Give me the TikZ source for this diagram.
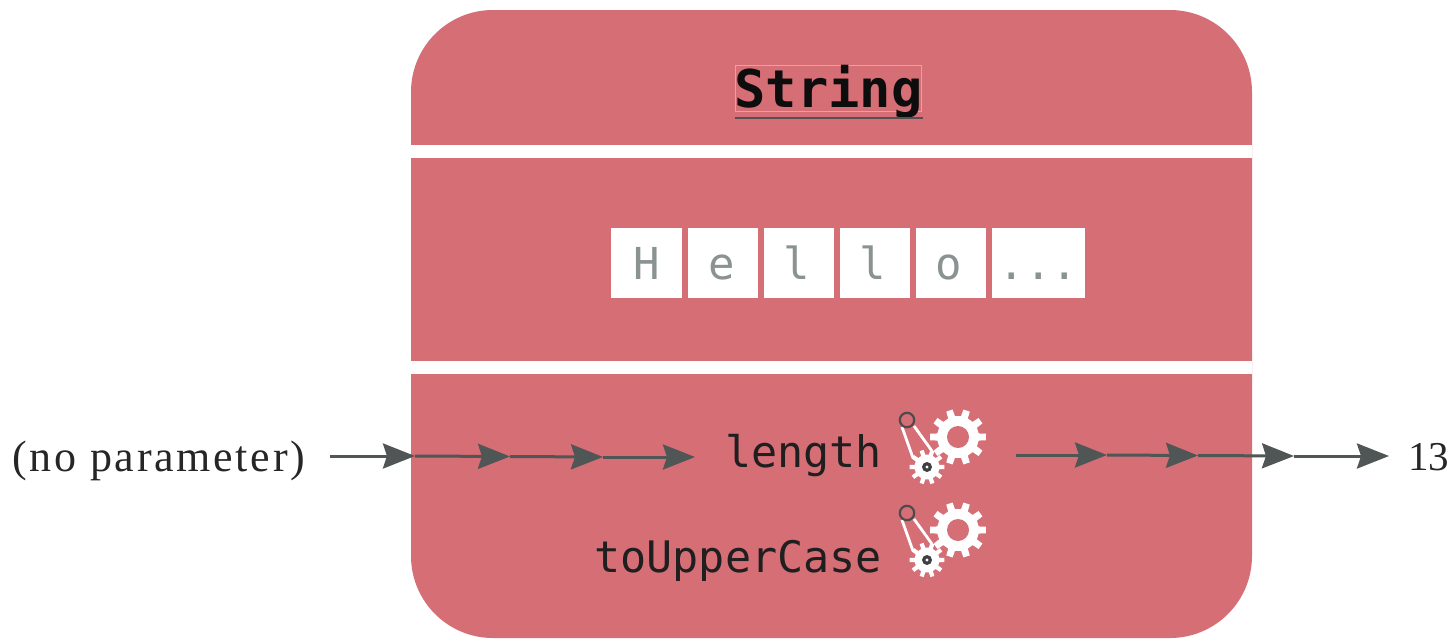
\documentclass[tikz,border=0pt]{standalone}
\usepackage{fontspec}
\setmainfont{Liberation Serif}
\setmonofont{DejaVu Sans Mono}
\usetikzlibrary{arrows.meta}
\definecolor{panelred}{HTML}{D66E76}
\definecolor{arrowgray}{HTML}{505555}
\definecolor{cellgray}{HTML}{8A9292}
\newcommand{\gearshape}[3]{% radius inner, radius outer, teeth
  \fill[white] ({-0.27*360/#3}:#1)
  \foreach \i in {1,...,#3}{
    -- ({(\i-1)*360/#3-0.27*360/#3}:#1)
    -- ({(\i-1)*360/#3-0.19*360/#3}:#2)
    -- ({(\i-1)*360/#3+0.19*360/#3}:#2)
    -- ({(\i-1)*360/#3+0.27*360/#3}:#1)
  } -- cycle;
}
\tikzset{
  x=1pt,y=-1pt,
  band/.style={fill=white},
  cell/.style={fill=white,draw=none,minimum height=70pt,inner sep=0pt,anchor=center,
    text height=33pt,text depth=0pt,
    text=cellgray,font=\ttfamily\fontsize{44}{44}\selectfont},
  cellN/.style={cell,minimum width=70.5pt},
  method/.style={inner sep=0pt,anchor=base east,text=black!88,font=\ttfamily\fontsize{43.4}{44}\selectfont},
  label/.style={inner sep=0pt,anchor=base west,text=black!85,font=\fontsize{41}{41}\selectfont},
  widelabel/.style={label,font=\fontsize{44}{44}\selectfont\addfontfeature{LetterSpace=6.2}},
  flow/.style={draw=arrowgray,line width=3pt,-{Stealth[length=32pt,width=25pt,inset=4pt]}},
  gearset/.pic={
    \begin{scope}[shift={(51,17)}]\gearshape{21}{28}{10}
      \fill[panelred] (0,0) circle (11);\end{scope}
    \draw[white,line width=2.8pt] (-5,7) -- (6,38) (7,6) -- (25,31);
    \begin{scope}[shift={(20,47)}]\gearshape{12.5}{17.5}{10}
      \fill[white] (0,0) circle (8);
      \fill[black!75] (0,0) circle (5);
      \fill[white] (0,0) circle (1.6);\end{scope}
    \draw[black!70,line width=2.2pt,fill=panelred] (0,0) circle (7.2);
  }
}
\begin{document}
\begin{tikzpicture}
\useasboundingbox (0,0) rectangle (1453,638);
\fill[panelred,rounded corners=82pt] (411,10) rectangle (1252,638);
\fill[band] (411,145) rectangle (1252,158);
\fill[band] (411,361) rectangle (1252,374);
% class name
\node[draw=white!35!panelred,line width=0.7pt,minimum width=186pt,minimum height=46pt,inner sep=0pt] (frame) at (828.5,88) {};
\node[inner sep=0pt,anchor=base,text=black!95,font=\ttfamily\bfseries\fontsize{52}{52}\selectfont] (title) at (828.5,107) {String};
\draw[black!68,line width=2.2pt] (735,118) -- (923,118);
% cells
\node[cellN] (c1) at (646.5,263) {H};
\node[cellN] (c2) at (723,263) {\hspace*{-3pt}e};
\node[cellN] (c3) at (799,263) {\hspace*{-4pt}l};
\node[cellN] (c4) at (875,263) {\hspace*{-4pt}l};
\node[cellN] (c5) at (951,263) {\hspace*{-4pt}o};
\node[cell,minimum width=93pt] (c6) at (1038.5,263) {...};
% methods
\node[method] (length) at (882,467) {length};
\node[method] (upper) at (882,572) {toUpperCase};
\pic at (907,420) {gearset};
\pic at (907,513) {gearset};
% labels
\node[widelabel] (noparam) at (12,471) {(no parameter)};
\node[label] (result) at (1408,470) {13};
% flow
\coordinate (a0) at (330,456);
\coordinate (a1) at (415,456);
\coordinate (a2) at (510,456.5);
\coordinate (a3) at (603,457);
\coordinate (a4) at (695,457);
\coordinate (b0) at (1016,455);
\coordinate (b1) at (1107,455);
\coordinate (b2) at (1198,455.5);
\coordinate (b3) at (1294,456);
\coordinate (b4) at (1389,456);
\draw[flow] (a0) -- (a1);
\draw[flow] (a1) -- (a2);
\draw[flow] (a2) -- (a3);
\draw[flow] (a3) -- (a4);
\draw[flow] (b0) -- (b1);
\draw[flow] (b1) -- (b2);
\draw[flow] (b2) -- (b3);
\draw[flow] (b3) -- (b4);
\end{tikzpicture}
\end{document}
